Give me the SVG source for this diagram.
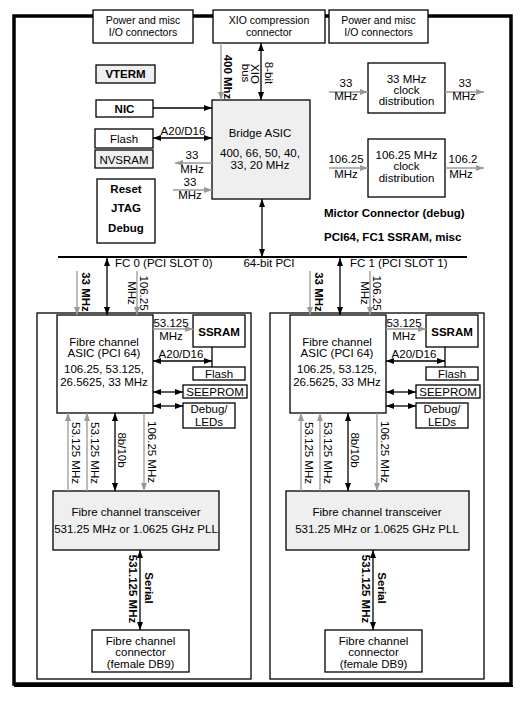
<svg xmlns="http://www.w3.org/2000/svg" width="524" height="702" viewBox="0 0 524 702">
<style>
.box{fill:#fff;stroke:#000;stroke-width:1.3}
.obox{fill:none;stroke:#000;stroke-width:1.3}
.gbox{fill:#efefef;stroke:#000;stroke-width:1.3}
.t{font-family:"Liberation Sans",Arial,sans-serif;font-size:11.5px;text-anchor:middle;fill:#000}
.tt{font-size:10.5px}
.s{text-anchor:start}
.b{font-weight:bold}
.ln{stroke:#000;stroke-width:1.3;fill:none}
.gl{stroke:#999;stroke-width:1.3;fill:none}
.ab{marker-end:url(#ab)}
.dab{marker-end:url(#ab);marker-start:url(#ab)}
.ag{marker-end:url(#ag)}
</style>
<defs>
<marker id="ab" markerUnits="userSpaceOnUse" markerWidth="8" markerHeight="6" refX="8" refY="3" orient="auto-start-reverse"><path d="M0,0 L8,3 L0,6 z" fill="#000"/></marker>
<marker id="ag" markerUnits="userSpaceOnUse" markerWidth="8" markerHeight="6" refX="8" refY="3" orient="auto-start-reverse"><path d="M0,0 L8,3 L0,6 z" fill="#999"/></marker>
</defs>
<rect x="0" y="0" width="524" height="702" fill="#fff"/>
<g id="frame">
<rect x="14" y="16" width="497" height="668" fill="none" stroke="#000" stroke-width="3.5"/>
<line x1="14" y1="686" x2="513" y2="686" stroke="#000" stroke-width="2"/>
</g>

<g id="power1"><rect class="box" x="93" y="10" width="100" height="33"/><text class="t tt" x="143" y="24">Power and misc</text><text class="t tt" x="143" y="36">I/O connectors</text></g>
<g id="xio"><rect class="box" x="213" y="10" width="112" height="33"/><text class="t tt" x="269" y="24">XIO compression</text><text class="t tt" x="269" y="36">connector</text></g>
<g id="power2"><rect class="box" x="329" y="10" width="99" height="33"/><text class="t tt" x="378.5" y="24">Power and misc</text><text class="t tt" x="378.5" y="36">I/O connectors</text></g>

<g id="vterm"><rect class="gbox" x="96" y="65" width="59" height="18"/><text class="t b" x="125.5" y="78">VTERM</text></g>
<g id="nic"><rect class="box" x="96" y="100" width="57" height="17"/><text class="t b" x="124.5" y="113">NIC</text></g>
<g id="flash0"><rect class="box" x="95" y="129" width="58" height="19"/><text class="t" x="124" y="143">Flash</text></g>
<g id="nvsram"><rect class="gbox" x="95" y="150" width="58" height="18"/><text class="t" x="124" y="164">NVSRAM</text></g>
<g id="reset"><rect class="box" x="97" y="179" width="58" height="64"/><text class="t b" x="126" y="193">Reset</text><text class="t b" x="126" y="212">JTAG</text><text class="t b" x="126" y="232">Debug</text></g>
<g id="bridge"><rect class="gbox" x="212" y="100" width="98" height="99"/><text class="t" x="260" y="137">Bridge ASIC</text><text class="t" x="260" y="157">400, 66, 50, 40,</text><text class="t" x="260" y="169">33, 20 MHz</text></g>
<g id="clk33"><rect class="box" x="368" y="63" width="77" height="50"/><text class="t" x="406.5" y="83">33 MHz</text><text class="t" x="406.5" y="94">clock</text><text class="t" x="406.5" y="105">distribution</text></g>
<g id="clk106"><rect class="box" x="368" y="139" width="77" height="58"/><text class="t" x="406.5" y="159">106.25 MHz</text><text class="t" x="406.5" y="170">clock</text><text class="t" x="406.5" y="182">distribution</text></g>

<g id="fc0">
<rect class="obox" x="37" y="313" width="214" height="366"/>
<g id="fc0-asic"><rect class="box" x="57" y="315" width="96" height="98" stroke-width="2"/><text class="t" x="104" y="346">Fibre channel</text><text class="t" x="104" y="357">ASIC (PCI 64)</text><text class="t" x="104" y="373">106.25, 53.125,</text><text class="t" x="104" y="386">26.5625, 33 MHz</text></g>
<g id="fc0-ssram"><rect class="box" x="193" y="315" width="52" height="32"/><text class="t b" x="219" y="336">SSRAM</text></g>
<g id="fc0-flash"><rect class="box" x="193" y="367" width="52" height="13"/><text class="t" x="219" y="378">Flash</text></g>
<g id="fc0-seeprom"><rect class="box" x="183" y="385" width="64" height="13" stroke-width="2"/><text class="t" x="215" y="396">SEEPROM</text></g>
<g id="fc0-debug"><rect class="box" x="183" y="403" width="52" height="25"/><text class="t" x="209" y="413">Debug/</text><text class="t" x="209" y="426">LEDs</text></g>
<g id="fc0-xcvr"><rect class="gbox" x="53" y="491" width="166" height="59"/><text class="t" x="136" y="516">Fibre channel transceiver</text><text class="t" x="136" y="533">531.25 MHz or 1.0625 GHz PLL</text></g>
<g id="fc0-conn"><rect class="box" x="92" y="630" width="97" height="42"/><text class="t" x="140.5" y="645">Fibre channel</text><text class="t" x="140.5" y="656">connector</text><text class="t" x="140.5" y="668">(female DB9)</text></g>
</g>

<g id="fc1">
<rect class="obox" x="270" y="313" width="214" height="366"/>
<g id="fc1-asic"><rect class="box" x="290" y="315" width="96" height="98" stroke-width="2"/><text class="t" x="337" y="346">Fibre channel</text><text class="t" x="337" y="357">ASIC (PCI 64)</text><text class="t" x="337" y="373">106.25, 53.125,</text><text class="t" x="337" y="386">26.5625, 33 MHz</text></g>
<g id="fc1-ssram"><rect class="box" x="426" y="315" width="52" height="32"/><text class="t b" x="452" y="336">SSRAM</text></g>
<g id="fc1-flash"><rect class="box" x="426" y="367" width="52" height="13"/><text class="t" x="452" y="378">Flash</text></g>
<g id="fc1-seeprom"><rect class="box" x="416" y="385" width="64" height="13" stroke-width="2"/><text class="t" x="448" y="396">SEEPROM</text></g>
<g id="fc1-debug"><rect class="box" x="416" y="403" width="52" height="25"/><text class="t" x="442" y="413">Debug/</text><text class="t" x="442" y="426">LEDs</text></g>
<g id="fc1-xcvr"><rect class="gbox" x="286" y="491" width="183" height="59"/><text class="t" x="377" y="516">Fibre channel transceiver</text><text class="t" x="377" y="533">531.25 MHz or 1.0625 GHz PLL</text></g>
<g id="fc1-conn"><rect class="box" x="325" y="630" width="97" height="42"/><text class="t" x="373.5" y="645">Fibre channel</text><text class="t" x="373.5" y="656">connector</text><text class="t" x="373.5" y="668">(female DB9)</text></g>
</g>

<g id="connectors">
<line class="gl ag" x1="221" y1="43" x2="221" y2="100"/>
<line class="ln dab" x1="261" y1="43" x2="261" y2="100"/>
<line class="ln ab" x1="153" y1="108" x2="212" y2="108"/>
<line class="ln dab" x1="153" y1="138" x2="212" y2="138"/>
<line class="gl ag" x1="212" y1="163" x2="175" y2="163"/>
<line class="gl ag" x1="173" y1="190" x2="212" y2="190"/>
<line class="gl ag" x1="329" y1="92" x2="368" y2="92"/>
<line class="gl ag" x1="445" y1="92" x2="484" y2="92"/>
<line class="gl ag" x1="329" y1="168" x2="368" y2="168"/>
<line class="gl ag" x1="445" y1="168" x2="484" y2="168"/>
<line x1="58" y1="257" x2="467" y2="257" stroke="#000" stroke-width="2"/>
<line class="ln dab" x1="262" y1="199" x2="262" y2="257"/>
<line class="ln dab" x1="107" y1="258" x2="107" y2="315"/>
<line class="gl ag" x1="77" y1="271" x2="77" y2="315"/>
<line class="gl ag" x1="137" y1="271" x2="137" y2="315"/>
<line class="gl ag" x1="153" y1="329" x2="193" y2="329"/>
<line class="ln dab" x1="153" y1="361" x2="212" y2="361"/>
<line class="ln" x1="212" y1="347" x2="212" y2="367"/>
<line class="ln dab" x1="153" y1="392" x2="183" y2="392"/>
<line class="ln dab" x1="153" y1="406" x2="183" y2="406"/>
<line class="gl ag" x1="68" y1="491" x2="68" y2="413"/>
<line class="gl ag" x1="87" y1="491" x2="87" y2="413"/>
<line class="ln dab" x1="115" y1="413" x2="115" y2="491"/>
<line class="gl ag" x1="144" y1="413" x2="144" y2="491"/>
<line class="ln dab" x1="140" y1="550" x2="140" y2="630"/>
<line class="ln dab" x1="340" y1="258" x2="340" y2="315"/>
<line class="gl ag" x1="310" y1="271" x2="310" y2="315"/>
<line class="gl ag" x1="370" y1="271" x2="370" y2="315"/>
<line class="gl ag" x1="386" y1="329" x2="426" y2="329"/>
<line class="ln dab" x1="386" y1="361" x2="445" y2="361"/>
<line class="ln" x1="445" y1="347" x2="445" y2="367"/>
<line class="ln dab" x1="386" y1="392" x2="416" y2="392"/>
<line class="ln dab" x1="386" y1="406" x2="416" y2="406"/>
<line class="gl ag" x1="301" y1="491" x2="301" y2="413"/>
<line class="gl ag" x1="320" y1="491" x2="320" y2="413"/>
<line class="ln dab" x1="348" y1="413" x2="348" y2="491"/>
<line class="gl ag" x1="377" y1="413" x2="377" y2="491"/>
<line class="ln dab" x1="373" y1="550" x2="373" y2="630"/>
</g>

<g id="labels">
<text class="t b" transform="translate(228,77) rotate(90)" dy="0.35em">400 Mhz</text>
<text class="t" transform="translate(255,74) rotate(90)" dy="0.35em">XIO</text>
<text class="t" transform="translate(246,73) rotate(90)" dy="0.35em">bus</text>
<text class="t" transform="translate(269,73) rotate(90)" dy="0.35em">8-bit</text>
<text class="t" x="183" y="135">A20/D16</text>
<text class="t" x="192" y="159">33</text>
<text class="t" x="192" y="173">MHz</text>
<text class="t" x="190" y="186">33</text>
<text class="t" x="190" y="199">MHz</text>
<text class="t" x="346" y="87">33</text>
<text class="t" x="346" y="100">MHz</text>
<text class="t" x="465" y="87">33</text>
<text class="t" x="464" y="100">MHz</text>
<text class="t" x="346" y="163">106.25</text>
<text class="t" x="346" y="178">MHz</text>
<text class="t" x="463" y="163">106.2</text>
<text class="t" x="461" y="178">MHz</text>
<text class="t s b" x="324" y="217">Mictor Connector (debug)</text>
<text class="t s b" x="324" y="241">PCI64, FC1 SSRAM, misc</text>
<text class="t" x="269" y="267">64-bit PCI</text>
<text class="t s" x="115" y="267">FC 0 (PCI SLOT 0)</text>
<text class="t s" x="350" y="267">FC 1 (PCI SLOT 1)</text>
<text class="t b" transform="translate(86,292) rotate(90)" dy="0.35em">33 MHz</text>
<text class="t" transform="translate(144,293) rotate(90)" dy="0.35em">106.25</text>
<text class="t" transform="translate(132,293) rotate(90)" dy="0.35em">MHz</text>
<text class="t" x="171" y="327">53.125</text>
<text class="t" x="171" y="340">MHz</text>
<text class="t" x="181" y="358">A20/D16</text>
<text class="t" transform="translate(76,453) rotate(90)" dy="0.35em">53.125 MHz</text>
<text class="t" transform="translate(95,453) rotate(90)" dy="0.35em">53.125 MHz</text>
<text class="t" transform="translate(122,450) rotate(90)" dy="0.35em">8b/10b</text>
<text class="t" transform="translate(152,452) rotate(90)" dy="0.35em">106.25 MHz</text>
<text class="t b" transform="translate(133,589) rotate(90)" dy="0.35em">531.125 MHz</text>
<text class="t b" transform="translate(149,588) rotate(90)" dy="0.35em">Serial</text>
<text class="t b" transform="translate(319,292) rotate(90)" dy="0.35em">33 MHz</text>
<text class="t" transform="translate(377,293) rotate(90)" dy="0.35em">106.25</text>
<text class="t" transform="translate(365,293) rotate(90)" dy="0.35em">MHz</text>
<text class="t" x="404" y="327">53.125</text>
<text class="t" x="404" y="340">MHz</text>
<text class="t" x="414" y="358">A20/D16</text>
<text class="t" transform="translate(309,453) rotate(90)" dy="0.35em">53.125 MHz</text>
<text class="t" transform="translate(328,453) rotate(90)" dy="0.35em">53.125 MHz</text>
<text class="t" transform="translate(355,450) rotate(90)" dy="0.35em">8b/10b</text>
<text class="t" transform="translate(385,452) rotate(90)" dy="0.35em">106.25 MHz</text>
<text class="t b" transform="translate(366,589) rotate(90)" dy="0.35em">531.125 MHz</text>
<text class="t b" transform="translate(382,588) rotate(90)" dy="0.35em">Serial</text>
</g>
</svg>
